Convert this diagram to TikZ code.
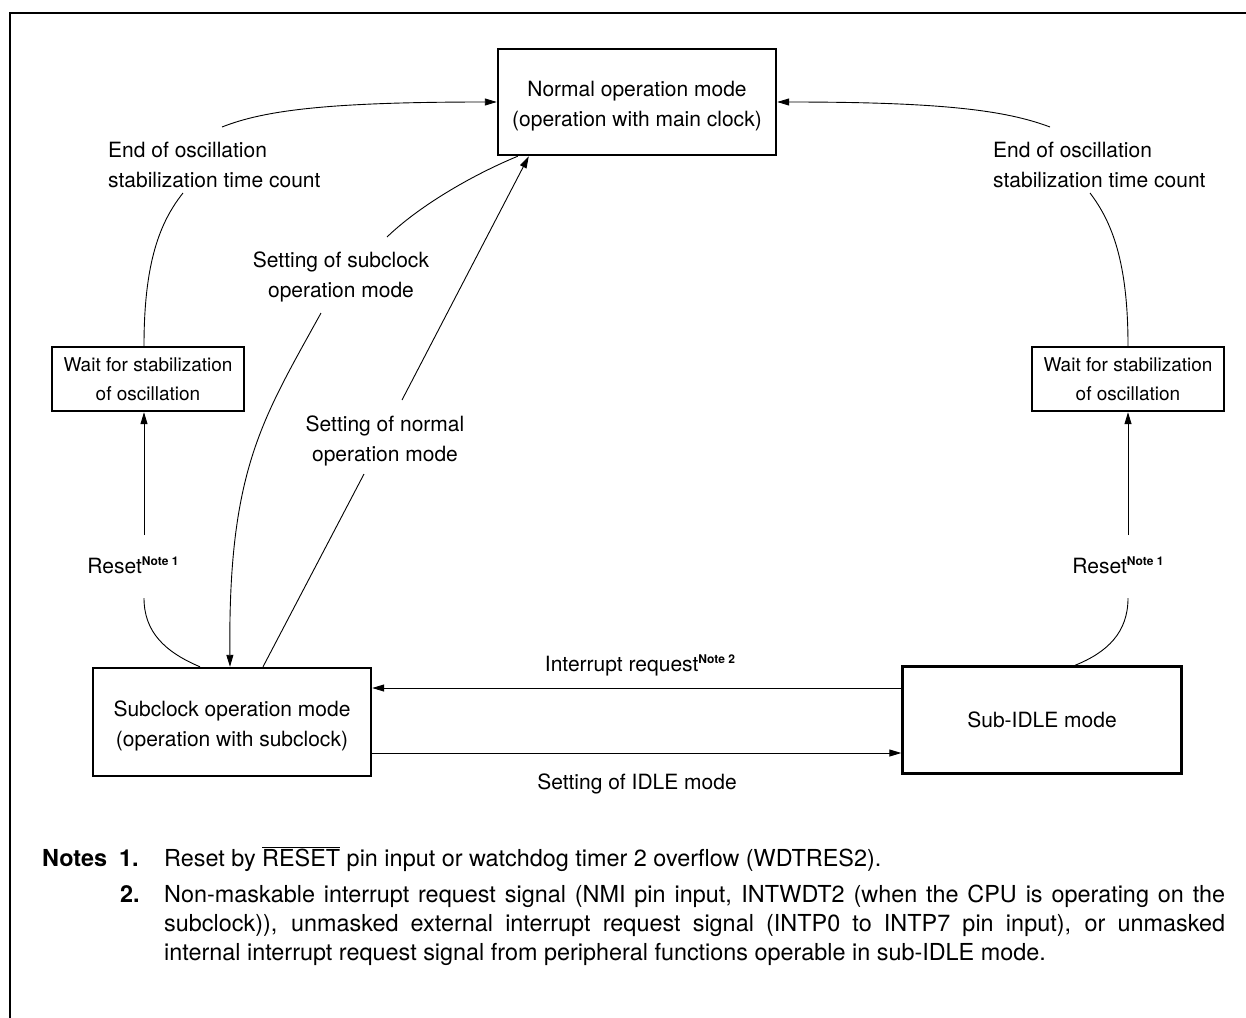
\documentclass[tikz,border=0pt]{standalone}
\usepackage{fontspec}
\setmainfont{TeX Gyre Heros}
\usetikzlibrary{arrows.meta}
\newcommand\fsz[2]{\fontsize{#1}{#2}\selectfont}
\newcommand\notesup[1]{\raisebox{8pt}{\fsz{12}{12}\bfseries #1}}
\begin{document}
\begin{tikzpicture}[x=1pt,y=-1pt,
  box/.style={draw, line width=2.4pt, inner sep=0pt},
  boxtext/.style={align=center, inner sep=0pt, font=\fsz{21}{29.5}},
  wbox/.style={box, align=center, font=\fsz{19}{29.5}},
  lbl/.style={inner sep=0pt, font=\fsz{21}{29.5}},
  con/.style={line width=0.9pt},
  arr/.style={con, -{Triangle[length=12pt,width=7pt]}},
  notebold/.style={anchor=base west, inner sep=0pt, font=\fsz{23.4}{29.3}\bfseries},
  notetext/.style={anchor=base west, inner sep=0pt, font=\fsz{23.4}{29.3}}
]
\useasboundingbox (0,0) rectangle (1246,1017);
\draw[line width=2.8pt] (10,1022) -- (10,13) -- (1252,13);

% boxes
\node[box, minimum width=278pt, minimum height=106pt] (nm) at (637,102) {};
\node[boxtext] (nmT) at ([yshift=-4pt]nm.center) {Normal operation mode\\(operation with main clock)};
\node[wbox, minimum width=192pt, minimum height=64pt] (wl) at (148,379) {Wait for stabilization\\of oscillation};
\node[wbox, minimum width=192pt, minimum height=64pt] (wr) at (1128,379) {Wait for stabilization\\of oscillation};
\node[box, minimum width=278pt, minimum height=108pt] (sc) at (232,722) {};
\node[boxtext] (scT) at ([yshift=-4pt]sc.center) {Subclock operation mode\\(operation with subclock)};
\node[box, minimum width=279pt, minimum height=107pt, font=\fsz{21}{29.5}] (si) at (1042,720) {Sub-IDLE mode};

% labels
\node[lbl, align=left, anchor=west] (eoL) at (108,165) {End of oscillation\\stabilization time count};
\node[lbl, align=left, anchor=west] (eoR) at (993,165) {End of oscillation\\stabilization time count};
\node[lbl, align=center] (ssub) at (341,277) {Setting of subclock\\operation mode};
\node[lbl, align=center] (snor) at (385,441) {Setting of normal\\operation mode};
\node[lbl, anchor=base] (rsL) at (133,573) {Reset\notesup{Note 1}};
\node[lbl, anchor=base] (rsR) at (1118,573) {Reset\notesup{Note 1}};
\node[lbl, anchor=base] (irq) at (640,671) {Interrupt request\notesup{Note 2}};
\node[lbl, anchor=base] (sidl) at (637,789) {Setting of IDLE mode};

% coordinates for gaps
\coordinate (eoLb) at (183,193);
\coordinate (eoLt) at (222,127);
\coordinate (eoRb) at (1090,193);
\coordinate (eoRt) at (1050,127);
\coordinate (rLt) at (144,535);
\coordinate (rLb) at (144,598);
\coordinate (rRt) at (1128,535);
\coordinate (rRb) at (1128,598);
\coordinate (ssT) at (387,237);
\coordinate (ssB) at (321,313);
\coordinate (snB) at (364,474);
\coordinate (snT) at (402,400);
\coordinate (yI) at (640,688);
\coordinate (yS) at (640,753);

% end of oscillation
\draw[con] ([xshift=-4pt]wl.north) .. controls (144,262) and (160,222) .. (eoLb);
\draw[arr] (eoLt) .. controls (265,110) and (330,102) .. (nm.west);
\draw[con] (wr.north) .. controls (1128,262) and (1112,222) .. (eoRb);
\draw[arr] (eoRt) .. controls (1005,110) and (940,102) .. (nm.east);

% resets
\draw[con] ([xshift=-32pt]sc.north) .. controls (165,652) and (144,632) .. (rLb);
\draw[arr] (rLt) -- ([xshift=-4pt]wl.south);
\draw[con] ([xshift=33pt]si.north) .. controls (1108,652) and (1128,632) .. (rRb);
\draw[arr] (rRt) -- (wr.south);

% setting of subclock operation mode
\draw[con] ([xshift=21pt]nm.south west) .. controls (470,176) and (418,207) .. (ssT);
\draw[arr] (ssB) .. controls (262,420) and (228,470) .. ([xshift=-2pt]sc.north);

% setting of normal operation mode
\draw[con] ([xshift=31pt]sc.north) -- (snB);
\draw[arr] (snT) -- ([xshift=32pt]nm.south west);

% horizontal arrows
\draw[arr] (si.west |- yI) -- (sc.east |- yI);
\draw[arr] (sc.east |- yS) -- (si.west |- yS);

% notes
\node[notebold] (notes) at (42,866) {Notes};
\node[notebold] (n1) at (119,866) {1.};
\node[notetext] (t1) at (164,866) {Reset by $\overline{\hbox{RESET}}$ pin input or watchdog timer 2 overflow (WDTRES2).};
\node[notebold] (n2) at (120,902) {2.};
\node[notetext] (t2) at (164,902) {\parbox[t]{1061pt}{\hyphenpenalty=10000\exhyphenpenalty=10000 Non-maskable interrupt request signal (NMI pin input, INTWDT2 (when the CPU is operating on the\linebreak subclock)), unmasked external interrupt request signal (INTP0 to INTP7 pin input), or unmasked\linebreak internal interrupt request signal from peripheral functions operable in sub-IDLE mode.}};
\end{tikzpicture}
\end{document}
